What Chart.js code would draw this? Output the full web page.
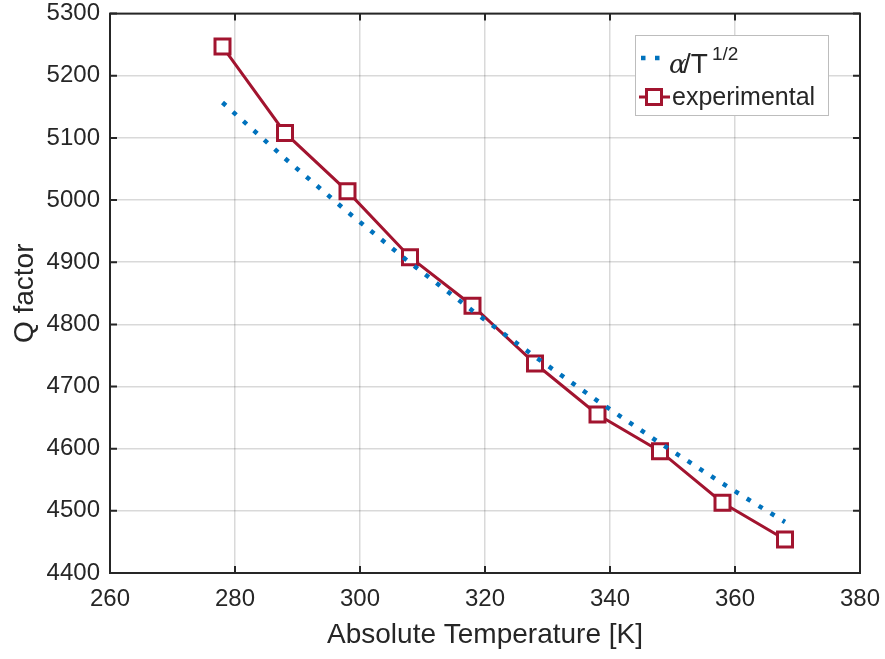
<!DOCTYPE html>
<html>
<head>
<meta charset="utf-8">
<script src="https://cdn.jsdelivr.net/npm/chart.js@4/dist/chart.umd.min.js"></script>
<style>
  html, body { margin: 0; padding: 0; background: #fff; }
  #wrap { width: 885px; height: 659px; }
</style>
</head>
<body>
<div id="wrap"><canvas id="chart"></canvas></div>
<script>
// temperatures [K]
const temps = [278, 288, 298, 308, 318, 328, 338, 348, 358, 368];
// measured Q factor
const qExperimental = [5247, 5108, 5014, 4908, 4830, 4737, 4655, 4596, 4513, 4454];
// alpha / T^1/2 fit
const qFit = [5157, 5067, 4981, 4899, 4822, 4748, 4677, 4609, 4544, 4482];
const xTicks = [260, 280, 300, 320, 340, 360, 380];
const yTicks = [4400, 4500, 4600, 4700, 4800, 4900, 5000, 5100, 5200, 5300];

const blue = 'rgb(0, 114, 189)';
const red = 'rgb(162, 20, 47)';
const ink = '#262626';
const font = '"Liberation Sans", Arial, sans-serif';

// MATLAB-style box, inward ticks, legend with superscript
const boxPlugin = {
  id: 'box',
  afterDatasetsDraw(chart) {
    const ctx = chart.ctx;
    const a = chart.chartArea;
    const xs = chart.scales.x, ys = chart.scales.y;
    ctx.save();
    ctx.strokeStyle = ink;
    ctx.lineWidth = 2;
    ctx.strokeRect(a.left, a.top, a.right - a.left, a.bottom - a.top);
    ctx.beginPath();
    xTicks.forEach(v => {
      const px = xs.getPixelForValue(v);
      ctx.moveTo(px, a.bottom); ctx.lineTo(px, a.bottom - 7);
      ctx.moveTo(px, a.top); ctx.lineTo(px, a.top + 7);
    });
    yTicks.forEach(v => {
      const py = ys.getPixelForValue(v);
      ctx.moveTo(a.left, py); ctx.lineTo(a.left + 7, py);
      ctx.moveTo(a.right, py); ctx.lineTo(a.right - 7, py);
    });
    ctx.stroke();

    // legend
    const lx = 635, ly = 35;
    ctx.fillStyle = '#fff';
    ctx.fillRect(lx, ly, 193, 80);
    ctx.strokeStyle = '#bdbdbd';
    ctx.lineWidth = 1;
    ctx.strokeRect(lx + 0.5, ly + 0.5, 193, 80);

    ctx.strokeStyle = blue;
    ctx.lineWidth = 4.5;
    ctx.setLineDash([4.5, 9.5]);
    ctx.beginPath();
    ctx.moveTo(lx + 6, ly + 23); ctx.lineTo(lx + 27, ly + 23);
    ctx.stroke();
    ctx.setLineDash([]);

    ctx.fillStyle = ink;
    ctx.textBaseline = 'alphabetic';
    ctx.font = 'italic 26px "DejaVu Serif", serif';
    ctx.fillText('\u03b1', lx + 34, ly + 38);
    ctx.font = '28px ' + font;
    ctx.fillText('/T', lx + 48, ly + 38);
    ctx.font = '19px ' + font;
    ctx.fillText('1/2', lx + 77, ly + 25);

    ctx.strokeStyle = red;
    ctx.lineWidth = 3;
    ctx.beginPath();
    ctx.moveTo(lx + 4, ly + 62); ctx.lineTo(lx + 35, ly + 62);
    ctx.stroke();
    ctx.fillStyle = '#fff';
    ctx.fillRect(lx + 11.5, ly + 54.5, 15, 15);
    ctx.strokeRect(lx + 11.5, ly + 54.5, 15, 15);
    ctx.fillStyle = ink;
    ctx.font = '25px ' + font;
    ctx.fillText(chart.data.datasets[1].label, lx + 37, ly + 70);
    ctx.restore();
  }
};

new Chart(document.getElementById('chart'), {
  type: 'line',
  data: {
    datasets: [
      {
        label: '\u03b1/T^1/2',
        data: temps.map((t, i) => ({ x: t, y: qFit[i] })),
        borderColor: blue,
        borderWidth: 4.5,
        borderDash: [4.5, 9.5],
        borderCapStyle: 'butt',
        pointRadius: 0,
        fill: false,
        tension: 0
      },
      {
        label: 'experimental',
        data: temps.map((t, i) => ({ x: t, y: qExperimental[i] })),
        borderColor: red,
        borderWidth: 3,
        pointStyle: 'rect',
        pointRadius: 10.6,
        pointBorderWidth: 3,
        pointBackgroundColor: '#fff',
        pointBorderColor: red,
        fill: false,
        tension: 0
      }
    ]
  },
  options: {
    responsive: true,
    maintainAspectRatio: false,
    animation: false,
    layout: { padding: { top: 12, right: 25, left: 0, bottom: 0 } },
    plugins: { legend: { display: false }, tooltip: { enabled: false } },
    scales: {
      x: {
        type: 'linear',
        min: 260, max: 380,
        afterBuildTicks: s => { s.ticks = xTicks.map(v => ({ value: v })); },
        afterFit: s => { s.height = 86; s.paddingLeft = 0; s.paddingRight = 0; },
        grid: { color: 'rgba(0,0,0,0.15)', lineWidth: 1.5, drawTicks: false },
        border: { display: false },
        ticks: { color: ink, font: { family: font, size: 24 }, padding: 12, maxRotation: 0, callback: v => String(v) },
        title: { display: true, text: 'Absolute Temperature [K]', color: ink, font: { family: font, size: 28 }, padding: { top: 0, bottom: 7 } }
      },
      y: {
        type: 'linear',
        min: 4400, max: 5300,
        afterBuildTicks: s => { s.ticks = yTicks.map(v => ({ value: v })); },
        afterFit: s => { s.width = 110; s.paddingTop = 0; s.paddingBottom = 0; },
        grid: { color: 'rgba(0,0,0,0.15)', lineWidth: 1.5, drawTicks: false },
        border: { display: false },
        ticks: { color: ink, font: { family: font, size: 24 }, padding: 10, callback: v => String(v) },
        title: { display: true, text: 'Q factor', color: ink, font: { family: font, size: 28 }, padding: { top: 8, bottom: 0 } }
      }
    }
  },
  plugins: [boxPlugin]
});
</script>
</body>
</html>
